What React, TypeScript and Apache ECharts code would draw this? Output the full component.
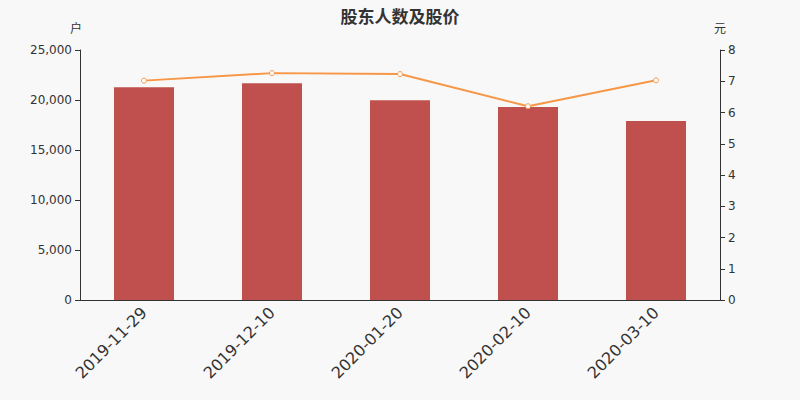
import React, { useEffect, useRef } from 'react';
import * as echarts from 'echarts';

const dates = ['2019-11-29', '2019-12-10', '2020-01-20', '2020-02-10', '2020-03-10'];
const holders = [21270, 21670, 19970, 19300, 17900];
const prices = [7.02, 7.26, 7.23, 6.2, 7.03];

const App = () => {
  const chartRef = useRef(null);

  useEffect(() => {
    const myChart = echarts.init(chartRef.current, null, { renderer: 'svg' });
    const option = {
      animation: false,
      backgroundColor: '#f8f8f8',
      textStyle: { fontFamily: 'DejaVu Sans, Noto Sans CJK SC, sans-serif' },
      title: {
        text: '股东人数及股价',
        left: 'center',
        top: 3,
        textStyle: { fontSize: 17, fontWeight: 'bold', color: '#333' }
      },
      grid: { left: 80, right: 80, top: 50, bottom: 100 },
      xAxis: {
        type: 'category',
        data: dates,
        axisLine: { lineStyle: { color: '#333' } },
        axisLabel: { rotate: 45, fontSize: 16, color: '#333', margin: 10 }
      },
      yAxis: [
        {
          type: 'value',
          name: '户',
          min: 0,
          max: 25000,
          interval: 5000,
          nameTextStyle: { color: '#333', fontSize: 12, padding: [0, 0, 0, -8] },
          nameGap: 15,
          axisLine: { show: true, lineStyle: { color: '#333' } },
          axisTick: { show: true },
          splitLine: { show: false },
          axisLabel: {
            color: '#333',
            fontSize: 12,
            formatter: (v: number) => v.toLocaleString('en-US')
          }
        },
        {
          type: 'value',
          name: '元',
          min: 0,
          max: 8,
          interval: 1,
          nameTextStyle: { color: '#333', fontSize: 12 },
          nameGap: 15,
          axisLine: { show: true, lineStyle: { color: '#333' } },
          axisTick: { show: true },
          splitLine: { show: false },
          axisLabel: { color: '#333', fontSize: 12 }
        }
      ],
      series: [
        {
          type: 'bar',
          data: holders,
          barWidth: 60,
          itemStyle: { color: '#c0504d' }
        },
        {
          type: 'line',
          yAxisIndex: 1,
          data: prices,
          symbol: 'circle',
          symbolSize: 5,
          itemStyle: { color: '#fff', borderColor: '#f79646', borderWidth: 1 },
          lineStyle: { color: '#f79646', width: 2 }
        }
      ]
    };
    myChart.setOption(option);
    return () => {
      myChart.dispose();
    };
  }, []);

  return (
    <div
      ref={chartRef}
      style={{ position: 'absolute', left: 0, top: 0, width: '800px', height: '400px' }}
    ></div>
  );
};

export default App;
